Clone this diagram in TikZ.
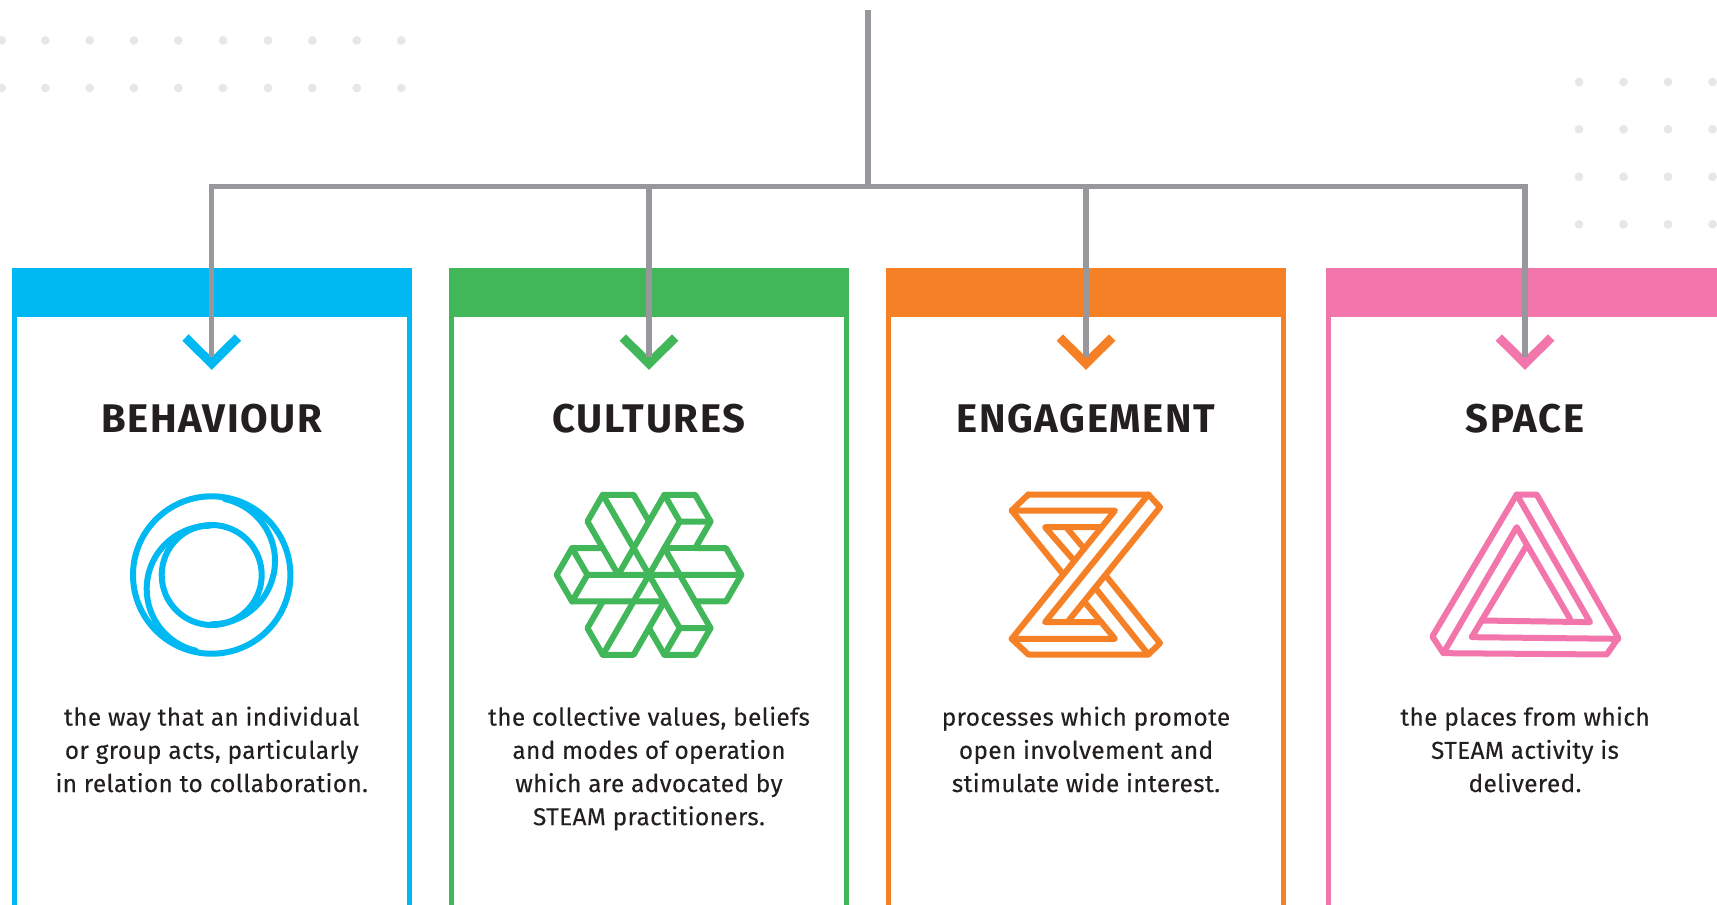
\documentclass[tikz,border=0pt]{standalone}
\usepackage{fontspec}
\setmainfont{Fira Sans}
\usetikzlibrary{positioning}
\definecolor{cardblue}{HTML}{00B9F2}
\definecolor{cardgreen}{HTML}{41B75A}
\definecolor{cardorange}{HTML}{F58026}
\definecolor{cardpink}{HTML}{F275AC}
\definecolor{linegray}{HTML}{98989C}
\definecolor{dotgray}{HTML}{E6E7E8}
\definecolor{inkblack}{HTML}{231F20}
\tikzset{
  feed/.style={draw=linegray, line width=2.6pt},
  cardside/.style={line width=2.5pt},
  cardbar/.style={anchor=north west, inner sep=0pt, outer sep=0pt, minimum width=200pt, minimum height=24.5pt},
  chevron/.style={line width=4.5pt, miter limit=10},
  icon/.style={line width=3pt, line join=round, line cap=round},
  cardtitle/.style={font=\fontsize{20}{24}\selectfont\bfseries\addfontfeature{LetterSpace=4}, text=inkblack},
  cardtext/.style={font=\fontsize{12.2}{16.6}\selectfont\addfontfeature{LetterSpace=1.5,FakeBold=0.2}, text=inkblack, align=center, anchor=north},
}
\begin{document}
\begin{tikzpicture}[x=0.5pt, y=-0.5pt]
  \useasboundingbox (0,0) rectangle (1717,904);
  \clip (0,0) rectangle (1717,904);

  % dots
  \foreach \y in {40.5,88}
    \foreach \x in {1.7,45.3,89.7,134,178.3,223,268,312.3,356.7,401.3}
      \fill[dotgray] (\x,\y) circle (4.4);
  \foreach \y in {82,129.3,176.8,224.3}
    \foreach \x in {1579,1623.5,1668,1712.6}
      \fill[dotgray] (\x,\y) circle (4.4);

  % cards
  \foreach \name/\left/\mid/\right/\col/\ttl in {
      behaviour/11.5/211.7/411.5/cardblue/BEHAVIOUR,
      cultures/449/649/849/cardgreen/CULTURES,
      engagement/886/1086/1286/cardorange/ENGAGEMENT,
      space/1325.5/1525/1800/cardpink/SPACE}{
    \draw[cardside, \col] (\left+2.5,300) -- (\left+2.5,920);
    \draw[cardside, \col] (\right-2.5,300) -- (\right-2.5,920);
    \node[cardbar, fill=\col] (bar\name) at (\left,268) {};
    \draw[chevron, \col] (\mid-26.2,337.5) -- (\mid,363.5) -- (\mid+26.2,337.5);
    \coordinate (tip\name) at (\mid,357);
    \node[cardtitle] (title\name) at (\mid,419) {\ttl};
  }

  % tree
  \coordinate (root) at (868,10);
  \coordinate (bus) at (868,186.5);
  \draw[feed] (root) -- (bus);
  \draw[feed] (bus) -| (tipbehaviour);
  \draw[feed] (bus) -| (tipcultures);
  \draw[feed] (bus) -| (tipengagement);
  \draw[feed] (bus) -| (tipspace);

  % behaviour icon
  \begin{scope}[icon, cardblue]
    \draw (211.7,575) circle (78.7);
    \draw (211.7,575) circle (50);
    \draw (211.7,561)+(-78:63.3) arc (-78:90:63.3);
    \draw (210,589)+(-90:63.3) arc (-90:-257:63.3);
  \end{scope}

  % cultures icon
  \foreach \r in {0,120,240}{
    \begin{scope}[icon, cardgreen, shift={(649,574.8)}, rotate=\r]
      \draw (0,0) -- (-46.2,-80) -- (-15.4,-80) -- (0,-53.3);
      \draw (-30.8,0) -- (15.4,-80) -- (46.2,-80) -- (61.6,-53.3) -- (46.2,-26.65) -- (77,-26.65) -- (92.4,0);
      \draw (15.4,-80) -- (30.8,-53.3) -- (61.6,-53.3);
      \draw (30.8,-53.3) -- (0,0);
      \draw (15.4,-26.65) -- (46.2,-26.65);
    \end{scope}
  }

  % engagement icon
  \begin{scope}[icon, cardorange, shift={(990,480.5)}, scale=1/3]
    \draw (115,42) -- (475,42) -- (510,80) -- (232,425);
    \draw (347,285) -- (510,488) -- (475,522) -- (115,522) -- (65,475) -- (375,90) -- (65,90) -- (115,42);
    \draw (65,90) -- (220,282);
    \draw (475,42) -- (165,425) -- (335,425);
    \draw (65,475) -- (375,475) -- (284,365);
    \draw (475,522) -- (318,325);
    \draw (335,140) -- (165,140) -- (252,240);
    \draw (230,142) -- (283,205);
  \end{scope}

  % space icon
  \begin{scope}[icon, cardpink, shift={(1415,480.5)}, scale=1/3]
    \draw (305,42) -- (365,42) -- (610,472) -- (575,522) -- (85,518) -- (52,468) -- cycle;
    \draw (305,42) -- (525,425) -- (200,420);
    \draw (85,518) -- (305,140) -- (465,415);
    \draw (610,475) -- (170,470) -- (335,195);
  \end{scope}

  % texts
  \node[cardtext] (textbehaviour) at (211.7,699.5) {the way that an individual\\or group acts, particularly\\in relation to collaboration.};
  \node[cardtext] (textcultures) at (649,699.5) {the collective values, beliefs\\and modes of operation\\which are advocated by\\STEAM practitioners.};
  \node[cardtext] (textengagement) at (1086,699.5) {processes which promote\\open involvement and\\stimulate wide interest.};
  \node[cardtext] (textspace) at (1525,699.5) {the places from which\\STEAM activity is\\delivered.};
\end{tikzpicture}
\end{document}
